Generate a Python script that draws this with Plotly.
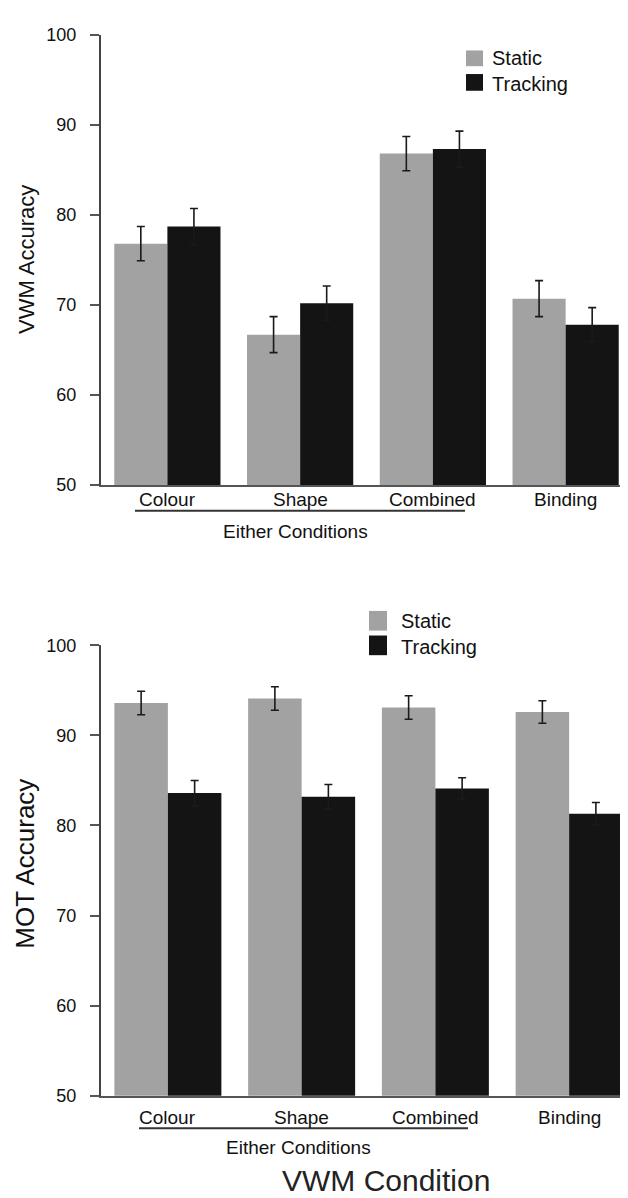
import plotly.graph_objects as go

W, H = 628, 1198

categories = ["Colour", "Shape", "Combined", "Binding"]
series_names = ["Static", "Tracking"]

vwm_static = [76.8, 66.7, 86.8, 70.7]
vwm_static_err = [1.9, 2.0, 1.9, 2.0]
vwm_tracking = [78.7, 70.2, 87.3, 67.8]
vwm_tracking_err = [2.0, 1.9, 2.0, 1.9]

mot_static = [93.6, 94.1, 93.1, 92.6]
mot_static_err = [1.3, 1.3, 1.3, 1.25]
mot_tracking = [83.6, 83.2, 84.1, 81.3]
mot_tracking_err = [1.4, 1.35, 1.2, 1.25]

y_ticks = [50, 60, 70, 80, 90, 100]
group_label = "Either Conditions"
y_title_top = "VWM Accuracy"
y_title_bottom = "MOT Accuracy"
x_title = "VWM Condition"

GRAY = "#a2a2a2"
BLACK = "#141414"
FONT = "Liberation Sans, Arial, Helvetica, sans-serif"


def px(x):
    return x / W


def py(y):
    return 1 - y / H


fig = go.Figure()

err_style = dict(type="data", visible=True, color="#1a1a1a", thickness=1.6, width=4)

fig.add_trace(go.Bar(x=categories, y=vwm_static, name=series_names[0], marker_color=GRAY,
                     marker_line_width=0,
                     error_y=dict(array=vwm_static_err, **err_style), xaxis="x", yaxis="y"))
fig.add_trace(go.Bar(x=categories, y=vwm_tracking, name=series_names[1], marker_color=BLACK,
                     marker_line_width=0,
                     error_y=dict(array=vwm_tracking_err, **err_style), xaxis="x", yaxis="y"))
fig.add_trace(go.Bar(x=categories, y=mot_static, name=series_names[0], marker_color=GRAY,
                     marker_line_width=0,
                     error_y=dict(array=mot_static_err, **err_style), xaxis="x2", yaxis="y2"))
fig.add_trace(go.Bar(x=categories, y=mot_tracking, name=series_names[1], marker_color=BLACK,
                     marker_line_width=0,
                     error_y=dict(array=mot_tracking_err, **err_style), xaxis="x2", yaxis="y2"))

xcommon = dict(showline=True, linecolor="#555555", linewidth=2, showticklabels=False,
               ticks="", showgrid=False, zeroline=False, range=[-0.5, 3.5], fixedrange=True)
ycommon = dict(showline=True, linecolor="#444444", linewidth=2, ticks="outside", ticklen=9,
               tickwidth=2, tickcolor="#555555", tickvals=y_ticks, range=[50, 100],
               showgrid=False, zeroline=False, tickfont=dict(size=18, color="#111111", family=FONT),
               ticklabelstandoff=10)

fig.update_layout(
    width=W, height=H,
    margin=dict(l=0, r=0, t=0, b=0),
    paper_bgcolor="white", plot_bgcolor="white",
    barmode="group", bargap=0.2, bargroupgap=0,
    showlegend=False,
    font=dict(family=FONT, color="#111111"),
    xaxis=dict(domain=[px(93), px(624)], anchor="y", **xcommon),
    yaxis=dict(domain=[py(475), py(17)], anchor="x", **ycommon),
    xaxis2=dict(domain=[px(93), px(628)], anchor="y2", **xcommon),
    yaxis2=dict(domain=[py(1096), py(638)], anchor="x2", **ycommon),
)

annotations = []
shapes = []

# category labels
for xref, ypix in (("x", 490), ("x2", 1118)):
    for c in categories:
        annotations.append(dict(x=c, y=py(ypix), xref=xref, yref="paper", text=c, showarrow=False,
                                xanchor="center", yanchor="middle",
                                font=dict(size=19, family=FONT, color="#111111")))

# group underline + label
for (x0, x1, yl, yt, xt) in ((127, 457, 501, 522, 287), (131, 460, 1129, 1149, 290)):
    shapes.append(dict(type="line", xref="paper", yref="paper", x0=px(x0), x1=px(x1),
                       y0=py(yl), y1=py(yl), line=dict(color="#333333", width=2)))
    annotations.append(dict(x=px(xt), y=py(yt), xref="paper", yref="paper", text=group_label,
                            showarrow=False, xanchor="center", yanchor="middle",
                            font=dict(size=19, family=FONT, color="#111111")))

# y-axis titles
annotations.append(dict(x=px(19), y=py(246), xref="paper", yref="paper", text=y_title_top,
                        showarrow=False, textangle=-90, xanchor="center", yanchor="middle",
                        font=dict(size=22, family=FONT, color="#111111")))
annotations.append(dict(x=px(17), y=py(860), xref="paper", yref="paper", text=y_title_bottom,
                        showarrow=False, textangle=-90, xanchor="center", yanchor="middle",
                        font=dict(size=26, family=FONT, color="#111111")))

# x-axis title
annotations.append(dict(x=px(378), y=py(1182), xref="paper", yref="paper", text=x_title,
                        showarrow=False, xanchor="center", yanchor="middle",
                        font=dict(size=30, family=FONT, color="#222222")))

# legends (manual)
for (sx0, sx1, gy0, gy1, by0, by1, tx, yc) in (
        (458, 475, 33, 49, 57, 74, 482, 54),
        (361, 379, 603, 623, 628, 648, 391, 626)):
    shapes.append(dict(type="rect", xref="paper", yref="paper", x0=px(sx0), x1=px(sx1),
                       y0=py(gy1), y1=py(gy0), fillcolor=GRAY, line=dict(width=0)))
    shapes.append(dict(type="rect", xref="paper", yref="paper", x0=px(sx0), x1=px(sx1),
                       y0=py(by1), y1=py(by0), fillcolor=BLACK, line=dict(width=0)))
    annotations.append(dict(x=px(tx), y=py(yc), xref="paper", yref="paper",
                            text=series_names[0] + "<br>" + series_names[1],
                            showarrow=False, xanchor="left", yanchor="middle", align="left",
                            font=dict(size=20, family=FONT, color="#111111")))

fig.update_layout(annotations=annotations, shapes=shapes)

fig.write_html("out.html")
